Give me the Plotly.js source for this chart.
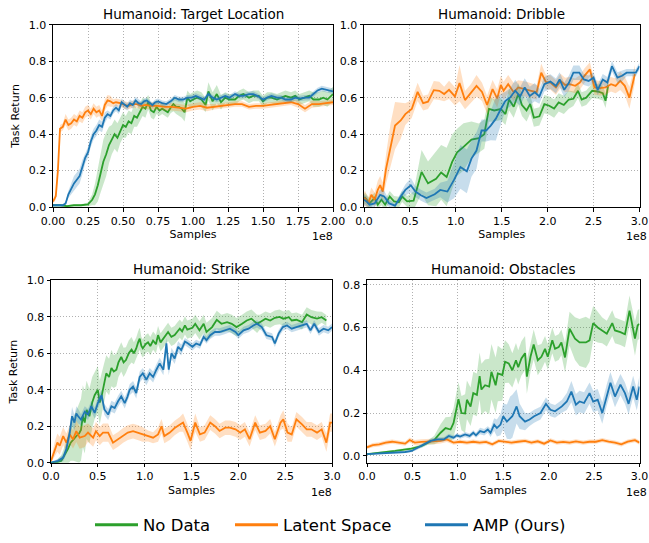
<!DOCTYPE html>
<html>
<head>
<meta charset="utf-8">
<script src="https://cdn.plot.ly/plotly-3.0.1.min.js"></script>
<style>html,body{margin:0;padding:0;background:#fff;}#chart{width:649px;height:543px;}</style>
</head>
<body>
<div id="chart"></div>
<script>
// ---------- Humanoid: Target Location (x in 1e8 samples) ----------
const tlGreenX = [0,0.05,0.1,0.15,0.2,0.25,0.28,0.3,0.32,0.34, 0.36,0.38,0.4,0.42,0.44,0.46,0.48,0.5,0.52,0.54, 0.56,0.58,0.6,0.62,0.64,0.66,0.68,0.7,0.72,0.74, 0.76,0.78,0.8,0.82,0.84,0.86,0.88,0.9,0.92,0.94, 0.96,0.98,1.0,1.03,1.06,1.09,1.11,1.14,1.17,1.2, 1.23,1.26,1.3,1.33,1.36,1.4,1.43,1.47,1.5,1.53, 1.56,1.6,1.63,1.66,1.7,1.73,1.76,1.8,1.83,1.86, 1.9,1.93,1.96,2.0];
const tlGreen = [0.01,0.01,0.005,0.01,0.01,0.015,0.04,0.07,0.12,0.19, 0.25,0.29,0.34,0.37,0.40,0.38,0.42,0.45,0.44,0.47, 0.46,0.50,0.49,0.52,0.55,0.54,0.575,0.53,0.52,0.55, 0.53,0.54,0.53,0.52,0.545,0.565,0.55,0.55,0.54,0.52, 0.60,0.58,0.59,0.60,0.59,0.56,0.635,0.58,0.62,0.575, 0.60,0.59,0.59,0.61,0.62,0.60,0.61,0.61,0.58,0.60, 0.60,0.59,0.60,0.61,0.60,0.61,0.59,0.60,0.61,0.59, 0.59,0.60,0.59,0.62];
const tlGreenSd = [0.005,0.005,0.005,0.005,0.005,0.01,0.03,0.06,0.09,0.11, 0.12,0.12,0.1,0.08,0.08,0.08,0.07,0.07,0.06,0.06, 0.06,0.06,0.05,0.05,0.05,0.05,0.04,0.04,0.04,0.04, 0.03,0.03,0.03,0.03,0.03,0.04,0.04,0.05,0.05,0.05, 0.04,0.04,0.04,0.04,0.04,0.04,0.05,0.05,0.05,0.04, 0.03,0.03,0.03,0.03,0.03,0.03,0.03,0.03,0.03,0.03, 0.03,0.03,0.03,0.03,0.03,0.03,0.03,0.03,0.03,0.04, 0.04,0.04,0.04,0.04];

const tlOrangeX = [0,0.02,0.035,0.05,0.07,0.09,0.11,0.13,0.15,0.17, 0.19,0.21,0.23,0.25,0.27,0.29,0.31,0.33,0.35,0.37, 0.39,0.41,0.43,0.45,0.48,0.51,0.54,0.57,0.6,0.63, 0.66,0.7,0.75,0.8,0.85,0.9,0.95,1.0,1.05,1.1, 1.15,1.2,1.25,1.3,1.35,1.4,1.45,1.5,1.55,1.6, 1.65,1.7,1.75,1.8,1.85,1.9,1.95,2.0];
const tlOrange = [0.03,0.06,0.2,0.43,0.44,0.48,0.45,0.46,0.48,0.47, 0.50,0.49,0.52,0.53,0.51,0.54,0.52,0.53,0.50,0.56, 0.585,0.58,0.57,0.575,0.57,0.56,0.555,0.565,0.565,0.555, 0.56,0.555,0.555,0.55,0.55,0.545,0.54,0.55,0.555,0.545, 0.55,0.555,0.56,0.565,0.565,0.55,0.555,0.555,0.56,0.565, 0.57,0.575,0.565,0.54,0.565,0.565,0.57,0.575];
const tlOrangeSd = [0.01,0.02,0.03,0.02,0.02,0.03,0.03,0.03,0.03,0.03, 0.03,0.03,0.03,0.03,0.03,0.03,0.03,0.03,0.03,0.03, 0.03,0.03,0.02,0.02,0.02,0.02,0.02,0.02,0.02,0.02, 0.02,0.02,0.02,0.02,0.02,0.02,0.02,0.02,0.02,0.02, 0.015,0.015,0.015,0.015,0.015,0.015,0.015,0.015,0.015,0.015, 0.015,0.015,0.02,0.02,0.02,0.015,0.015,0.015];

const tlBlueX = [0,0.04,0.07,0.09,0.11,0.13,0.15,0.17,0.19,0.21, 0.23,0.25,0.27,0.29,0.31,0.33,0.35,0.37,0.39,0.41, 0.43,0.45,0.47,0.49,0.51,0.53,0.55,0.57,0.59,0.61, 0.63,0.65,0.67,0.69,0.71,0.73,0.75,0.78,0.81,0.84, 0.87,0.9,0.93,0.96,0.99,1.02,1.05,1.08,1.11,1.14, 1.17,1.2,1.23,1.26,1.3,1.33,1.36,1.4,1.43,1.46, 1.5,1.53,1.56,1.6,1.63,1.66,1.7,1.73,1.76,1.8, 1.83,1.86,1.89,1.92,1.95,1.98,2.0];
const tlBlue = [0.01,0.01,0.01,0.02,0.07,0.10,0.13,0.15,0.17,0.22, 0.27,0.30,0.36,0.40,0.42,0.45,0.44,0.49,0.51,0.50, 0.53,0.545,0.53,0.575,0.56,0.55,0.57,0.56,0.585,0.57, 0.565,0.58,0.585,0.57,0.56,0.575,0.58,0.57,0.565,0.58, 0.60,0.59,0.59,0.60,0.60,0.61,0.60,0.59,0.62,0.60, 0.59,0.60,0.61,0.60,0.62,0.61,0.61,0.62,0.62,0.61, 0.59,0.60,0.61,0.60,0.60,0.59,0.59,0.60,0.595,0.60, 0.60,0.62,0.64,0.65,0.645,0.64,0.635];
const tlBlueSd = [0.005,0.005,0.005,0.01,0.02,0.03,0.04,0.04,0.04,0.04, 0.03,0.03,0.03,0.03,0.03,0.03,0.03,0.03,0.02,0.02, 0.02,0.02,0.02,0.02,0.02,0.02,0.02,0.02,0.02,0.02, 0.015,0.015,0.015,0.015,0.015,0.015,0.015,0.015,0.015,0.015, 0.015,0.015,0.015,0.015,0.015,0.015,0.015,0.015,0.015,0.015, 0.015,0.015,0.015,0.015,0.015,0.015,0.015,0.015,0.015,0.015, 0.015,0.015,0.015,0.015,0.015,0.015,0.015,0.015,0.015,0.015, 0.015,0.015,0.015,0.015,0.015,0.015,0.015];

// ---------- Humanoid: Dribble ----------
const drGreenX = [0,0.011,0.06,0.116,0.15,0.19,0.23,0.28,0.327,0.38, 0.415,0.47,0.54,0.627,0.697,0.785,0.84,0.9,0.96,1.014, 1.084,1.17,1.25,1.31,1.36,1.418,1.49,1.54,1.58,1.63, 1.68,1.72,1.77,1.81,1.85,1.91,1.964,2.017,2.07,2.12, 2.176,2.23,2.28,2.33,2.37,2.42,2.485,2.545,2.6,2.63, 2.66];
const drGreen = [0.04,0.05,0.02,0.05,0.013,0.04,0.013,0.058,0.031,0.027, 0.058,0.031,0.035,0.193,0.13,0.155,0.19,0.165,0.248,0.30, 0.33,0.37,0.378,0.40,0.538,0.53,0.538,0.51,0.59,0.55, 0.62,0.56,0.53,0.565,0.49,0.498,0.565,0.556,0.54,0.574, 0.56,0.59,0.594,0.638,0.59,0.60,0.638,0.634,0.625,0.583, 0.67];
const drGreenSd = [0.03,0.03,0.03,0.03,0.02,0.03,0.03,0.03,0.03,0.03, 0.03,0.03,0.05,0.12,0.12,0.15,0.15,0.16,0.15,0.13, 0.13,0.1,0.08,0.08,0.07,0.06,0.06,0.06,0.06,0.06, 0.06,0.06,0.06,0.05,0.05,0.05,0.05,0.05,0.05,0.05, 0.05,0.05,0.04,0.04,0.04,0.04,0.04,0.04,0.04,0.04, 0.04];

const drOrangeX = [0,0.011,0.046,0.08,0.116,0.15,0.176,0.204,0.24,0.29, 0.338,0.4,0.45,0.52,0.584,0.644,0.697,0.76,0.82,0.873, 0.926,0.99,1.04,1.1,1.165,1.225,1.285,1.34,1.4,1.45, 1.49,1.52,1.57,1.63,1.68,1.77,1.82,1.88,1.93,1.98, 2.03,2.09,2.14,2.19,2.24,2.3,2.35,2.4,2.46,2.51, 2.57,2.63,2.69,2.74,2.79,2.84,2.89,2.95];
const drOrange = [0.04,0.05,0.02,0.067,0.04,0.094,0.12,0.085,0.21,0.34, 0.447,0.475,0.51,0.538,0.632,0.57,0.578,0.641,0.638,0.62, 0.643,0.607,0.68,0.587,0.625,0.665,0.632,0.56,0.647,0.596, 0.67,0.638,0.674,0.63,0.656,0.647,0.638,0.63,0.737,0.686, 0.683,0.656,0.692,0.67,0.674,0.665,0.683,0.72,0.755,0.656, 0.652,0.656,0.674,0.665,0.692,0.665,0.60,0.73];
const drOrangeSd = [0.04,0.04,0.03,0.04,0.04,0.05,0.05,0.05,0.08,0.12, 0.13,0.1,0.06,0.05,0.05,0.04,0.04,0.05,0.05,0.04, 0.05,0.05,0.1,0.05,0.05,0.06,0.05,0.05,0.05,0.05, 0.05,0.05,0.05,0.05,0.04,0.04,0.04,0.04,0.05,0.04, 0.04,0.04,0.04,0.04,0.04,0.04,0.04,0.04,0.04,0.04, 0.04,0.04,0.04,0.04,0.05,0.05,0.06,0.05];

const drBlueX = [0,0.03,0.06,0.116,0.176,0.22,0.275,0.338,0.4,0.45, 0.51,0.56,0.62,0.68,0.77,0.83,0.908,0.98,1.05,1.12, 1.17,1.225,1.28,1.33,1.38,1.436,1.49,1.54,1.59,1.647, 1.7,1.75,1.805,1.86,1.91,1.964,2.03,2.09,2.13,2.18, 2.23,2.28,2.345,2.394,2.446,2.5,2.545,2.6,2.65,2.7, 2.76,2.81,2.86,2.92,2.96,3.0];
const drBlue = [0.04,0.03,0.013,0.02,0.067,0.058,0.02,0.008,0.058,0.094, 0.12,0.085,0.065,0.05,0.07,0.094,0.085,0.149,0.22,0.196, 0.266,0.31,0.42,0.42,0.447,0.485,0.538,0.583,0.60,0.638, 0.607,0.656,0.61,0.63,0.607,0.674,0.688,0.665,0.70,0.643, 0.68,0.737,0.737,0.70,0.692,0.71,0.643,0.70,0.683,0.773, 0.71,0.72,0.737,0.737,0.737,0.773];
const drBlueSd = [0.03,0.03,0.02,0.02,0.03,0.03,0.02,0.01,0.02,0.03, 0.04,0.03,0.03,0.03,0.03,0.04,0.06,0.1,0.12,0.12, 0.1,0.1,0.06,0.06,0.08,0.12,0.08,0.05,0.05,0.06, 0.05,0.05,0.05,0.05,0.04,0.04,0.04,0.04,0.04,0.04, 0.04,0.04,0.04,0.03,0.03,0.03,0.03,0.03,0.03,0.03, 0.03,0.03,0.02,0.02,0.02,0.02];

// ---------- Humanoid: Strike ----------
const stGreenX = [0,0.05,0.11,0.146,0.18,0.21,0.24,0.27,0.3,0.32, 0.34,0.36,0.38,0.41,0.44,0.466,0.5,0.52,0.54,0.565, 0.59,0.62,0.645,0.67,0.698,0.72,0.75,0.775,0.80,0.83, 0.86,0.885,0.91,0.93,0.947,0.965,0.98,1.01,1.036,1.06, 1.09,1.12,1.143,1.17,1.2,1.225,1.25,1.285,1.32,1.35, 1.375,1.4,1.43,1.455,1.48,1.51,1.54,1.585,1.63,1.66, 1.72,1.77,1.82,1.88,1.93,1.98,2.04,2.09,2.14,2.2, 2.23,2.29,2.34,2.39,2.44,2.48,2.54,2.57,2.62,2.68, 2.73,2.78,2.84,2.89,2.94];
const stGreen = [0.0,0.0,0.01,0.04,0.075,0.11,0.13,0.146,0.16,0.18, 0.255,0.22,0.29,0.255,0.33,0.37,0.40,0.33,0.364,0.43, 0.49,0.47,0.52,0.5,0.51,0.55,0.58,0.55,0.563,0.60, 0.62,0.60,0.627,0.66,0.68,0.64,0.627,0.65,0.66,0.64, 0.67,0.65,0.70,0.66,0.68,0.70,0.717,0.69,0.70,0.72, 0.735,0.72,0.753,0.73,0.735,0.74,0.762,0.726,0.762,0.717, 0.744,0.784,0.762,0.771,0.762,0.744,0.762,0.78,0.79,0.762, 0.771,0.79,0.78,0.795,0.80,0.79,0.798,0.78,0.784,0.771, 0.813,0.798,0.79,0.798,0.78];
const stGreenSd = [0.005,0.01,0.03,0.05,0.08,0.1,0.12,0.14,0.16,0.17, 0.17,0.17,0.16,0.15,0.14,0.13,0.13,0.12,0.12,0.11, 0.1,0.1,0.1,0.09,0.09,0.08,0.08,0.08,0.07,0.07, 0.07,0.06,0.06,0.06,0.06,0.05,0.05,0.05,0.05,0.05, 0.05,0.05,0.05,0.05,0.05,0.05,0.05,0.05,0.05,0.05, 0.05,0.05,0.05,0.05,0.05,0.05,0.05,0.05,0.05,0.05, 0.05,0.05,0.05,0.05,0.05,0.05,0.05,0.05,0.05,0.05, 0.04,0.04,0.04,0.04,0.04,0.04,0.04,0.04,0.04,0.04, 0.04,0.04,0.04,0.03,0.03];

const stOrangeX = [0,0.04,0.068,0.093,0.13,0.164,0.2,0.235,0.27,0.306, 0.36,0.395,0.45,0.48,0.52,0.555,0.61,0.662,0.716,0.77, 0.82,0.876,0.93,0.98,1.036,1.09,1.143,1.18,1.21,1.268, 1.32,1.375,1.41,1.456,1.49,1.54,1.59,1.64,1.7,1.75, 1.8,1.86,1.91,1.97,2.02,2.07,2.12,2.18,2.23,2.29, 2.34,2.39,2.45,2.48,2.525,2.57,2.62,2.68,2.73,2.78, 2.84,2.89,2.94,2.98,3.0];
const stOrange = [0.01,0.075,0.11,0.093,0.146,0.11,0.155,0.128,0.173,0.137, 0.146,0.165,0.137,0.173,0.146,0.165,0.165,0.11,0.128,0.15, 0.165,0.173,0.165,0.155,0.146,0.137,0.155,0.2,0.146,0.165, 0.19,0.21,0.22,0.165,0.12,0.22,0.155,0.165,0.22,0.2, 0.174,0.192,0.192,0.183,0.165,0.183,0.129,0.22,0.165,0.174, 0.2,0.129,0.22,0.238,0.165,0.155,0.238,0.21,0.183,0.183, 0.165,0.183,0.11,0.22,0.22];
const stOrangeSd = [0.01,0.04,0.05,0.05,0.05,0.05,0.05,0.05,0.06,0.06, 0.06,0.05,0.05,0.05,0.05,0.05,0.05,0.04,0.04,0.04, 0.04,0.04,0.04,0.04,0.03,0.03,0.04,0.04,0.04,0.04, 0.04,0.04,0.05,0.05,0.05,0.05,0.04,0.04,0.04,0.04, 0.04,0.04,0.04,0.04,0.04,0.04,0.04,0.04,0.04,0.04, 0.04,0.04,0.04,0.05,0.05,0.04,0.04,0.04,0.04,0.04, 0.04,0.04,0.05,0.05,0.05];

const stBlueX = [0,0.075,0.13,0.164,0.2,0.225,0.25,0.27,0.29,0.32, 0.36,0.395,0.43,0.466,0.5,0.54,0.57,0.61,0.645,0.68, 0.716,0.75,0.787,0.815,0.84,0.876,0.91,0.947,0.98,1.018, 1.054,1.09,1.125,1.16,1.2,1.232,1.257,1.286,1.32,1.357, 1.39,1.43,1.46,1.51,1.55,1.59,1.63,1.66,1.7,1.75, 1.8,1.86,1.91,1.97,2.0,2.055,2.11,2.16,2.2,2.25, 2.3,2.36,2.39,2.43,2.475,2.52,2.57,2.62,2.68,2.73, 2.77,2.81,2.86,2.91,2.96,3.0];
const stBlue = [0.0,0.01,0.028,0.075,0.165,0.255,0.22,0.27,0.255,0.236, 0.28,0.264,0.31,0.273,0.327,0.37,0.292,0.264,0.31,0.30, 0.337,0.364,0.327,0.36,0.40,0.418,0.382,0.47,0.49,0.455, 0.49,0.47,0.51,0.545,0.51,0.655,0.51,0.60,0.572,0.636, 0.618,0.664,0.655,0.636,0.654,0.645,0.69,0.672,0.699,0.717, 0.717,0.726,0.735,0.717,0.699,0.726,0.735,0.753,0.762,0.744, 0.699,0.69,0.654,0.708,0.744,0.753,0.735,0.744,0.753,0.762, 0.726,0.762,0.717,0.735,0.726,0.744];
const stBlueSd = [0.005,0.01,0.02,0.03,0.04,0.05,0.04,0.04,0.04,0.03, 0.03,0.03,0.03,0.03,0.03,0.03,0.03,0.03,0.03,0.03, 0.03,0.03,0.03,0.03,0.03,0.03,0.03,0.03,0.03,0.03, 0.03,0.03,0.03,0.03,0.03,0.03,0.03,0.03,0.03,0.03, 0.03,0.02,0.02,0.02,0.02,0.02,0.02,0.02,0.02,0.02, 0.02,0.02,0.02,0.02,0.02,0.02,0.02,0.02,0.02,0.02, 0.02,0.02,0.02,0.02,0.02,0.02,0.02,0.02,0.02,0.02, 0.02,0.02,0.02,0.02,0.02,0.02];

// ---------- Humanoid: Obstacles ----------
const obGreenX = [0,0.17,0.31,0.49,0.6,0.67,0.74,0.81,0.865,0.92, 0.953,1.007,1.04,1.08,1.1,1.14,1.17,1.21,1.24,1.26, 1.3,1.345,1.37,1.416,1.44,1.49,1.52,1.56,1.6,1.64, 1.665,1.7,1.74,1.76,1.8,1.835,1.88,1.92,1.96,1.99, 2.04,2.07,2.11,2.14,2.18,2.23,2.29,2.34,2.41,2.45, 2.49,2.54,2.59,2.64,2.7,2.73,2.79,2.84,2.89,2.95, 2.98,3.0];
const obGreen = [0.008,0.015,0.023,0.034,0.046,0.062,0.074,0.108,0.13,0.123, 0.154,0.265,0.2,0.198,0.262,0.23,0.293,0.285,0.373,0.31, 0.33,0.324,0.393,0.33,0.385,0.378,0.44,0.432,0.4,0.447, 0.414,0.455,0.48,0.37,0.463,0.52,0.447,0.463,0.5,0.463, 0.54,0.5,0.508,0.53,0.46,0.594,0.548,0.53,0.53,0.54, 0.62,0.6,0.586,0.571,0.62,0.586,0.578,0.568,0.679,0.548, 0.61,0.617];
const obGreenSd = [0.003,0.004,0.005,0.006,0.008,0.01,0.02,0.04,0.05,0.06, 0.07,0.08,0.08,0.09,0.09,0.09,0.1,0.1,0.11,0.12, 0.12,0.13,0.13,0.13,0.13,0.12,0.1,0.09,0.08,0.08, 0.08,0.08,0.08,0.08,0.07,0.07,0.07,0.06,0.06,0.06, 0.06,0.06,0.06,0.06,0.07,0.08,0.1,0.11,0.12,0.1, 0.08,0.07,0.06,0.06,0.06,0.06,0.06,0.06,0.07,0.08, 0.07,0.07];

const obOrangeX = [0,0.064,0.135,0.206,0.277,0.35,0.42,0.47,0.526,0.6, 0.67,0.74,0.81,0.88,0.953,1.025,1.1,1.17,1.24,1.31, 1.38,1.45,1.52,1.59,1.66,1.74,1.81,1.88,1.95,2.02, 2.09,2.16,2.23,2.3,2.38,2.45,2.52,2.59,2.66,2.73, 2.8,2.87,2.95,3.0];
const obOrange = [0.04,0.05,0.054,0.062,0.066,0.062,0.057,0.074,0.062,0.065, 0.066,0.066,0.07,0.077,0.062,0.066,0.062,0.066,0.062,0.065, 0.054,0.07,0.066,0.062,0.066,0.07,0.062,0.068,0.057,0.072, 0.062,0.065,0.062,0.068,0.062,0.066,0.066,0.073,0.066,0.062, 0.054,0.066,0.073,0.062];
const obOrangeSd = [0.008,0.01,0.01,0.01,0.01,0.01,0.01,0.012,0.012,0.012, 0.012,0.012,0.012,0.012,0.01,0.01,0.01,0.01,0.01,0.01, 0.01,0.01,0.01,0.01,0.01,0.01,0.01,0.01,0.01,0.01, 0.01,0.01,0.01,0.01,0.01,0.01,0.01,0.01,0.01,0.01, 0.01,0.01,0.01,0.01];

const obBlueX = [0,0.17,0.31,0.42,0.49,0.56,0.63,0.7,0.775,0.846, 0.9,0.953,0.99,1.025,1.08,1.13,1.17,1.2,1.245,1.29, 1.33,1.36,1.4,1.43,1.47,1.5,1.54,1.576,1.6,1.647, 1.68,1.74,1.79,1.84,1.91,1.97,2.02,2.07,2.145,2.2, 2.25,2.3,2.34,2.39,2.45,2.49,2.54,2.59,2.64,2.68, 2.73,2.79,2.84,2.88,2.93,2.97,3.0];
const obBlue = [0.008,0.011,0.015,0.018,0.023,0.038,0.054,0.07,0.077,0.077, 0.093,0.085,0.096,0.09,0.1,0.093,0.108,0.096,0.116,0.11, 0.123,0.108,0.146,0.13,0.146,0.185,0.16,0.177,0.185,0.231, 0.185,0.16,0.17,0.185,0.2,0.243,0.215,0.208,0.231,0.254, 0.3,0.239,0.254,0.247,0.293,0.254,0.262,0.2,0.285,0.342, 0.277,0.333,0.293,0.243,0.324,0.262,0.324];
const obBlueSd = [0.003,0.003,0.004,0.005,0.006,0.008,0.01,0.01,0.01,0.01, 0.01,0.01,0.01,0.01,0.012,0.012,0.012,0.012,0.015,0.015, 0.015,0.02,0.03,0.04,0.05,0.06,0.08,0.1,0.1,0.08, 0.06,0.04,0.03,0.03,0.03,0.03,0.03,0.03,0.03,0.04, 0.05,0.05,0.05,0.05,0.05,0.05,0.05,0.05,0.05,0.05, 0.05,0.05,0.05,0.05,0.05,0.05,0.05];

// ---------- text & ticks ----------
const seriesNames = ['No Data', 'Latent Space', 'AMP (Ours)'];
const panelTitles = ['Humanoid: Target Location', 'Humanoid: Dribble', 'Humanoid: Strike', 'Humanoid: Obstacles'];
const xTicksTL = [0, 0.25, 0.5, 0.75, 1.0, 1.25, 1.5, 1.75, 2.0];
const xTickTextTL = ['0.00', '0.25', '0.50', '0.75', '1.00', '1.25', '1.50', '1.75', '2.00'];
const xTicks = [0, 0.5, 1.0, 1.5, 2.0, 2.5, 3.0];
const xTickText = ['0.0', '0.5', '1.0', '1.5', '2.0', '2.5', '3.0'];
const yTicks = [0, 0.2, 0.4, 0.6, 0.8, 1.0];
const yTickText = ['0.0', '0.2', '0.4', '0.6', '0.8', '1.0'];
const yTicksOb = [0, 0.2, 0.4, 0.6, 0.8];
const yTickTextOb = ['0.0', '0.2', '0.4', '0.6', '0.8'];

// ---------- styling ----------
const GREEN = '#2ca02c', ORANGE = '#ff7f0e', BLUE = '#1f77b4';
const GREEN_F = 'rgba(44,160,44,0.25)', ORANGE_F = 'rgba(255,127,14,0.25)', BLUE_F = 'rgba(31,119,180,0.25)';
const FONT = 'DejaVu Sans, sans-serif';
const W = 649, H = 543;

const traces = [];
function addSeries(xs, ys, sd, color, fillc, ax, name) {
  const n = Math.min(xs.length, ys.length, sd.length);
  const x = xs.slice(0, n), y = ys.slice(0, n), s = sd.slice(0, n);
  const up = y.map((v, i) => v + s[i]);
  const lo = y.map((v, i) => v - s[i]);
  const xa = ax === 1 ? 'x' : 'x' + ax, ya = ax === 1 ? 'y' : 'y' + ax;
  traces.push({x: x.concat(x.slice().reverse()), y: up.concat(lo.slice().reverse()),
    xaxis: xa, yaxis: ya, mode: 'lines', fill: 'toself', fillcolor: fillc,
    line: {width: 0, color: fillc}, showlegend: false, hoverinfo: 'skip'});
  traces.push({x: x, y: y, xaxis: xa, yaxis: ya, mode: 'lines', name: name,
    line: {color: color, width: 1.8}, showlegend: false});
}

addSeries(tlGreenX, tlGreen, tlGreenSd, GREEN, GREEN_F, 1, seriesNames[0]);
addSeries(tlOrangeX, tlOrange, tlOrangeSd, ORANGE, ORANGE_F, 1, seriesNames[1]);
addSeries(tlBlueX, tlBlue, tlBlueSd, BLUE, BLUE_F, 1, seriesNames[2]);
addSeries(drGreenX, drGreen, drGreenSd, GREEN, GREEN_F, 2, seriesNames[0]);
addSeries(drOrangeX, drOrange, drOrangeSd, ORANGE, ORANGE_F, 2, seriesNames[1]);
addSeries(drBlueX, drBlue, drBlueSd, BLUE, BLUE_F, 2, seriesNames[2]);
addSeries(stGreenX, stGreen, stGreenSd, GREEN, GREEN_F, 3, seriesNames[0]);
addSeries(stOrangeX, stOrange, stOrangeSd, ORANGE, ORANGE_F, 3, seriesNames[1]);
addSeries(stBlueX, stBlue, stBlueSd, BLUE, BLUE_F, 3, seriesNames[2]);
addSeries(obGreenX, obGreen, obGreenSd, GREEN, GREEN_F, 4, seriesNames[0]);
addSeries(obOrangeX, obOrange, obOrangeSd, ORANGE, ORANGE_F, 4, seriesNames[1]);
addSeries(obBlueX, obBlue, obBlueSd, BLUE, BLUE_F, 4, seriesNames[2]);

// legend-only entries (thicker key lines, one legend per entry)
[[seriesNames[0], GREEN, 'legend'], [seriesNames[1], ORANGE, 'legend2'], [seriesNames[2], BLUE, 'legend3']].forEach(e => {
  traces.push({x: [null], y: [null], xaxis: 'x', yaxis: 'y', mode: 'lines', name: e[0],
    line: {color: e[1], width: 3}, showlegend: true, legend: e[2], hoverinfo: 'skip'});
});

const common = {
  showline: true, linecolor: '#000', linewidth: 1, mirror: true,
  ticks: 'outside', ticklen: 3.5, tickwidth: 1, tickcolor: '#000',
  showgrid: true, gridcolor: '#b0b0b0', griddash: '1px,2px', gridwidth: 1,
  zeroline: false, tickfont: {size: 11, color: '#000', family: FONT}, fixedrange: true,
  tickmode: 'array', ticklabeloverflow: 'allow'
};
function xax(dom, range, tv, tt, anchor) {
  return Object.assign({}, common, {domain: dom, range: range, tickvals: tv, ticktext: tt,
    anchor: anchor, title: {text: 'Samples', font: {size: 11, color: '#000', family: FONT}, standoff: 3}});
}
function yax(dom, range, tv, tt, anchor, withTitle) {
  const o = Object.assign({}, common, {domain: dom, range: range, tickvals: tv, ticktext: tt, anchor: anchor});
  if (withTitle) o.title = {text: 'Task Return', font: {size: 11, color: '#000', family: FONT}, standoff: 6};
  return o;
}
const topDom = [1 - 209 / H, 1 - 25 / H], botDom = [1 - 467 / H, 1 - 283 / H];
const d1 = [53 / W, 333 / W], d2 = [364 / W, 639.5 / W], d3 = [51 / W, 332 / W], d4 = [367 / W, 639.5 / W];

const annotations = [];
[['x', 'y', 2], ['x2', 'y2', 9], ['x3', 'y3', 2], ['x4', 'y4', 9]].forEach((ax, i) => {
  annotations.push({text: panelTitles[i], xref: ax[0] + ' domain', yref: ax[1] + ' domain', x: 0.5, y: 1,
    xanchor: 'center', yanchor: 'bottom', yshift: 1, showarrow: false, font: {size: 13.5, color: '#000', family: FONT}});
  annotations.push({text: '1e8', xref: ax[0] + ' domain', yref: ax[1] + ' domain', x: 1, y: 0,
    xanchor: 'right', yanchor: 'top', yshift: -21, xshift: ax[2], showarrow: false, font: {size: 11, color: '#000', family: FONT}});
});

const legBase = {orientation: 'h', xanchor: 'left', yanchor: 'middle', y: 1 - 530 / H, itemwidth: 43,
  font: {size: 16.5, color: '#000', family: FONT}, bgcolor: 'rgba(0,0,0,0)', borderwidth: 0};
const layout = {
  width: W, height: H, margin: {l: 0, r: 0, t: 0, b: 0, pad: 0},
  paper_bgcolor: '#fff', plot_bgcolor: '#fff', font: {family: FONT, color: '#000'},
  xaxis: xax(d1, [0, 2], xTicksTL, xTickTextTL, 'y'),
  yaxis: yax(topDom, [0, 1], yTicks, yTickText, 'x', true),
  xaxis2: xax(d2, [0, 3], xTicks, xTickText, 'y2'),
  yaxis2: yax(topDom, [0, 1], yTicks, yTickText, 'x2', false),
  xaxis3: xax(d3, [0, 3], xTicks, xTickText, 'y3'),
  yaxis3: yax(botDom, [0, 1], yTicks, yTickText, 'x3', true),
  xaxis4: xax(d4, [0, 3], xTicks, xTickText, 'y4'),
  yaxis4: yax(botDom, [-0.032, 0.82], yTicksOb, yTickTextOb, 'x4', false),
  legend: Object.assign({}, legBase, {x: 90 / W}),
  legend2: Object.assign({}, legBase, {x: 230 / W}),
  legend3: Object.assign({}, legBase, {x: 420 / W}),
  annotations: annotations,
  showlegend: true
};

Plotly.newPlot('chart', traces, layout, {staticPlot: true, displayModeBar: false});
</script>
</body>
</html>
